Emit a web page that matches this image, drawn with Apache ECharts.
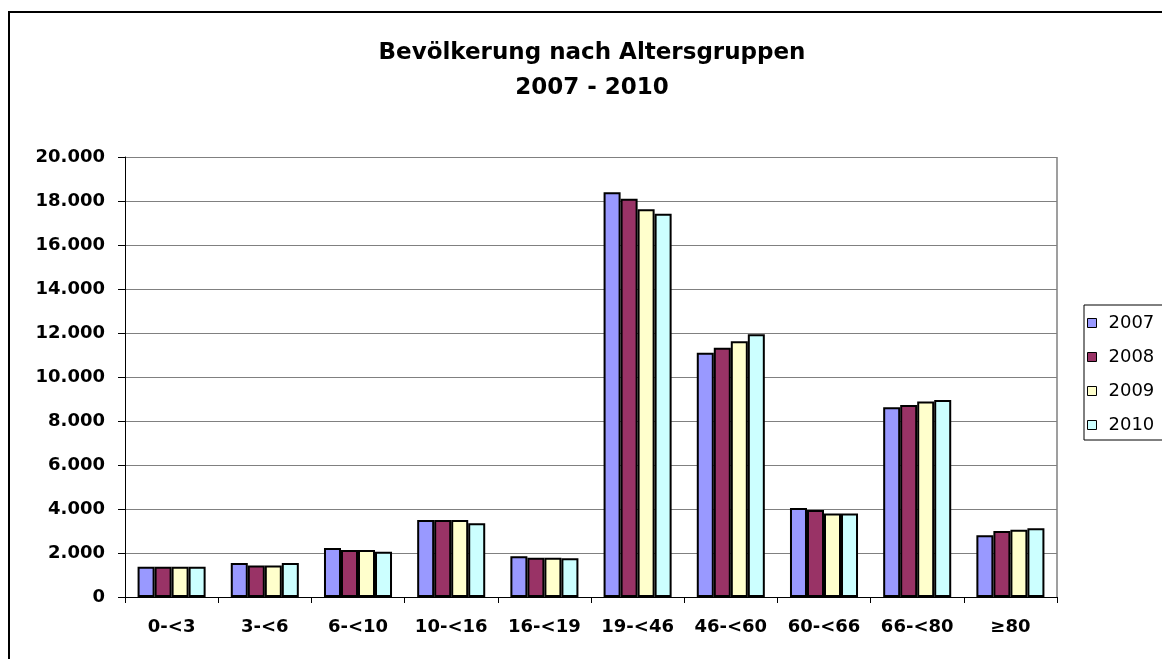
<!DOCTYPE html>
<html>
<head>
<meta charset="utf-8">
<script src="https://cdn.jsdelivr.net/npm/echarts@6/dist/echarts.min.js"></script>
<style>
  html, body { margin: 0; padding: 0; background: #fff; }
  #chart { width: 1162px; height: 659px; }
</style>
</head>
<body>
<div id="chart"></div>
<script>
// Altersgruppen
var categories = ['0-<3', '3-<6', '6-<10', '10-<16', '16-<19', '19-<46', '46-<60', '60-<66', '66-<80', '≥80'];
var years = ['2007', '2008', '2009', '2010'];
var values2007 = [1370, 1540, 2230, 3500, 1850, 18400, 11100, 4040, 8620, 2810];
var values2008 = [1370, 1430, 2140, 3500, 1780, 18100, 11330, 3950, 8730, 3000];
var values2009 = [1370, 1430, 2140, 3500, 1780, 17630, 11630, 3800, 8890, 3060];
var values2010 = [1370, 1540, 2060, 3350, 1760, 17420, 11940, 3800, 8960, 3130];
var yTicks = [0, 2000, 4000, 6000, 8000, 10000, 12000, 14000, 16000, 18000, 20000];

var colors = ['#9999FF', '#993366', '#FFFFCC', '#CCFFFF'];
var allValues = [values2007, values2008, values2009, values2010];

// breite Schrift, weil das Original horizontal gestreckt ist
var fontFam = '"DejaVu Sans", sans-serif';

function fmt(v) {
    // Tausenderpunkt
    return String(v).replace(/\B(?=(\d{3})+(?!\d))/g, '.');
}

var series = years.map(function (y, i) {
    return {
        name: y,
        type: 'bar',
        data: allValues[i],
        barGap: '0%',
        barCategoryGap: '27%',
        itemStyle: { color: colors[i], borderColor: '#000', borderWidth: 2 }
    };
});

var option = {
    animation: false,
    backgroundColor: '#fff',
    title: {
        text: 'Bevölkerung nach Altersgruppen\n2007 - 2010',
        left: 587,
        textAlign: 'center',
        top: 31,
        textStyle: { fontFamily: fontFam, fontWeight: 'bold', fontSize: 23, lineHeight: 35, color: '#000' }
    },
    legend: {
        orient: 'vertical',
        left: 1087,
        top: 314,
        itemWidth: 9,
        itemHeight: 9,
        itemGap: 16,
        icon: 'rect',
        padding: 0,
        textStyle: { fontFamily: fontFam, fontSize: 18, color: '#000', padding: [0, 0, 0, 7] },
        itemStyle: { borderColor: '#000', borderWidth: 1 },
        data: years
    },
    grid: { left: 125, right: 105, top: 157, bottom: 62 },
    xAxis: {
        type: 'category',
        data: categories,
        axisLine: { lineStyle: { color: '#000', width: 1 } },
        axisTick: { show: true, length: 6, lineStyle: { color: '#000' } },
        axisLabel: { interval: 0, fontFamily: fontFam, fontWeight: 'bold', fontSize: 18, color: '#000', margin: 21 }
    },
    yAxis: {
        type: 'value',
        min: 0,
        max: 20000,
        interval: 2000,
        axisLine: { show: true, lineStyle: { color: '#000', width: 1 } },
        axisTick: { show: true, length: 7, lineStyle: { color: '#000' } },
        axisLabel: {
            fontFamily: fontFam, fontWeight: 'bold', fontSize: 18, color: '#000', margin: 20,
            formatter: function (v) { return yTicks.indexOf(v) >= 0 ? fmt(v) : ''; }
        },
        splitLine: { lineStyle: { color: '#808080', width: 1 } }
    },
    graphic: [
        { type: 'rect', shape: { x: 9, y: 12, width: 1200, height: 700 },
          style: { fill: 'none', stroke: '#000', lineWidth: 2 }, silent: true },
        { type: 'rect', shape: { x: 1057, y: 157, width: 0, height: 440 },
          style: { fill: 'none', stroke: '#808080', lineWidth: 1.5 }, silent: true },
        { type: 'rect', shape: { x: 1084, y: 305, width: 100, height: 135 },
          style: { fill: 'none', stroke: '#000', lineWidth: 1 }, silent: true }
    ],
    series: series
};

var chart = echarts.init(document.getElementById('chart'));
chart.setOption(option);
</script>
</body>
</html>
